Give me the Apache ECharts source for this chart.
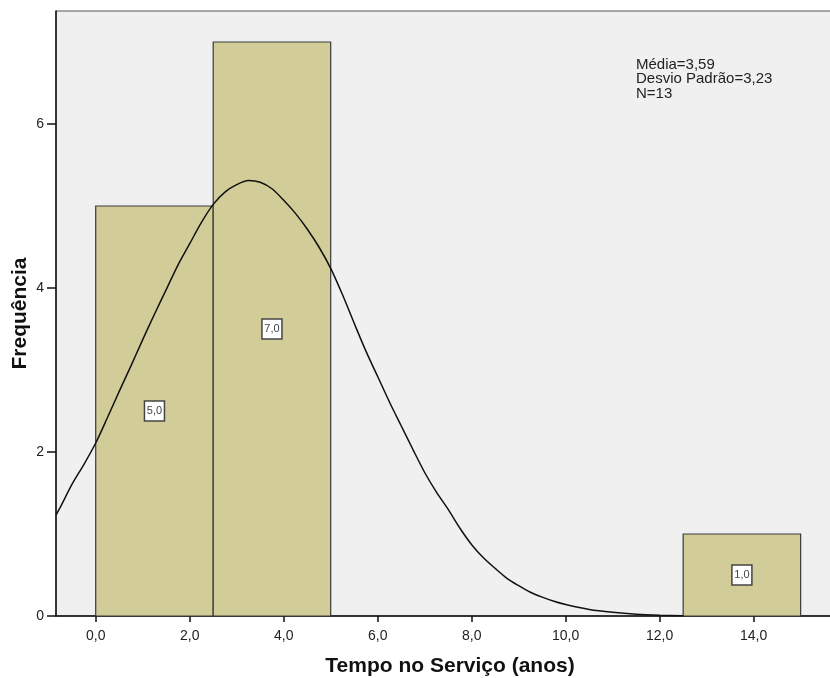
<!DOCTYPE html>
<html>
<head>
<meta charset="utf-8">
<script src="https://cdn.jsdelivr.net/npm/echarts@6/dist/echarts.min.js"></script>
<style>
html,body{margin:0;padding:0;background:#fff;}
#chart{width:830px;height:678px;}
</style>
</head>
<body>
<div id="chart"></div>
<script>
// Histogram bins: [start, end]
const binStarts = [0, 2.5, 12.5];
const binEnds = [2.5, 5, 15];
const binCounts = [5, 7, 1];
// Normal curve points
const curveX = [-0.845, -0.75, -0.5, -0.25, 0, 0.25, 0.5, 0.75, 1.0, 1.25, 1.5, 1.75, 2.0, 2.25, 2.5, 2.75, 3.0, 3.25, 3.5, 3.75, 4.0, 4.25, 4.5, 4.75, 5.0, 5.25, 5.5, 5.75, 6.0, 6.25, 6.5, 6.75, 7.0, 7.25, 7.5, 7.75, 8.0, 8.25, 8.5, 8.75, 9.0, 9.25, 9.5, 9.75, 10.0, 10.5, 11.0, 11.5, 12.0, 12.5];
const curveY = [1.23, 1.33, 1.61, 1.85, 2.11, 2.42, 2.74, 3.05, 3.37, 3.68, 3.98, 4.28, 4.54, 4.80, 5.02, 5.17, 5.26, 5.31, 5.29, 5.21, 5.07, 4.91, 4.72, 4.50, 4.24, 3.92, 3.57, 3.23, 2.92, 2.61, 2.32, 2.03, 1.75, 1.51, 1.30, 1.07, 0.87, 0.71, 0.58, 0.46, 0.37, 0.29, 0.23, 0.18, 0.14, 0.08, 0.045, 0.022, 0.01, 0.004];
const xTicks = [0, 2, 4, 6, 8, 10, 12, 14];
const yTicks = [0, 2, 4, 6];
const statsText = ['Média=3,59', 'Desvio Padrão=3,23', 'N=13'];
const xTitle = 'Tempo no Serviço (anos)';
const yTitle = 'Frequência';

const FONT = 'Liberation Sans, Arial, sans-serif';
const chart = echarts.init(document.getElementById('chart'));

const barData = binStarts.map((s, i) => [s, binEnds[i], binCounts[i]]);
const lineData = curveX.map((x, i) => [x, curveY[i]]);

chart.setOption({
  animation: false,
  backgroundColor: '#ffffff',
  grid: {
    left: 56, right: -2, top: 11, bottom: 62,
    outerBoundsMode: 'none', containLabel: false,
    show: true, backgroundColor: '#f0f0f0', borderColor: '#555', borderWidth: 1
  },
  xAxis: {
    type: 'value', min: -0.845, max: 15.667,
    name: xTitle, nameLocation: 'middle', nameGap: 40,
    nameTextStyle: { fontFamily: FONT, fontSize: 21, fontWeight: 'bold', color: '#111', padding: [0, 0, 0, 12] },
    axisLine: { show: true, onZero: false, lineStyle: { color: '#111', width: 1.5 } },
    axisTick: { show: true, length: 6, customValues: xTicks, lineStyle: { color: '#111', width: 1.5 } },
    axisLabel: {
      customValues: xTicks, margin: 13, fontFamily: FONT, fontSize: 14, color: '#222',
      formatter: v => v.toFixed(1).replace('.', ',')
    },
    splitLine: { show: false }
  },
  yAxis: {
    type: 'value', min: 0, max: 7.378,
    name: yTitle, nameLocation: 'middle', nameGap: 25, nameMoveOverlap: false,
    nameTextStyle: { fontFamily: FONT, fontSize: 21, fontWeight: 'bold', color: '#111' },
    axisLine: { show: true, onZero: false, lineStyle: { color: '#111', width: 1.5 } },
    axisTick: { show: true, length: 9, customValues: yTicks, lineStyle: { color: '#111', width: 1.5 } },
    axisLabel: { customValues: yTicks, margin: 12, fontFamily: FONT, fontSize: 14, color: '#222' },
    splitLine: { show: false }
  },
  series: [
    {
      type: 'custom',
      data: barData,
      renderItem: function (params, api) {
        const s = api.value(0), e = api.value(1), c = api.value(2);
        const p0 = api.coord([s, 0]);
        const p1 = api.coord([e, c]);
        const mid = api.coord([(s + e) / 2, c / 2]);
        return {
          type: 'group',
          children: [
            {
              type: 'rect',
              shape: { x: p0[0], y: p1[1], width: p1[0] - p0[0], height: p0[1] - p1[1] },
              style: { fill: '#d2cd98', stroke: '#3a3a3a', lineWidth: 1.2 }
            },
            {
              type: 'rect',
              shape: { x: mid[0] - 10, y: mid[1] - 10, width: 20, height: 20 },
              style: { fill: '#ffffff', stroke: '#444', lineWidth: 1.5 },
              z2: 10
            },
            {
              type: 'text',
              x: mid[0], y: mid[1],
              style: {
                text: c.toFixed(1).replace('.', ','),
                fontFamily: FONT, fontSize: 11, fill: '#444',
                align: 'center', verticalAlign: 'middle'
              },
              z2: 11
            }
          ]
        };
      },
      z: 2
    },
    {
      type: 'line',
      data: lineData,
      smooth: 0.3,
      showSymbol: false,
      symbol: 'none',
      lineStyle: { color: '#111', width: 1.5 },
      z: 5
    }
  ],
  graphic: [
    {
      type: 'text', left: 636, top: 57, z: 100,
      style: {
        text: statsText.join('\n'),
        fontFamily: FONT, fontSize: 15, lineHeight: 14.5, fill: '#222'
      }
    }
  ]
});
</script>
</body>
</html>
